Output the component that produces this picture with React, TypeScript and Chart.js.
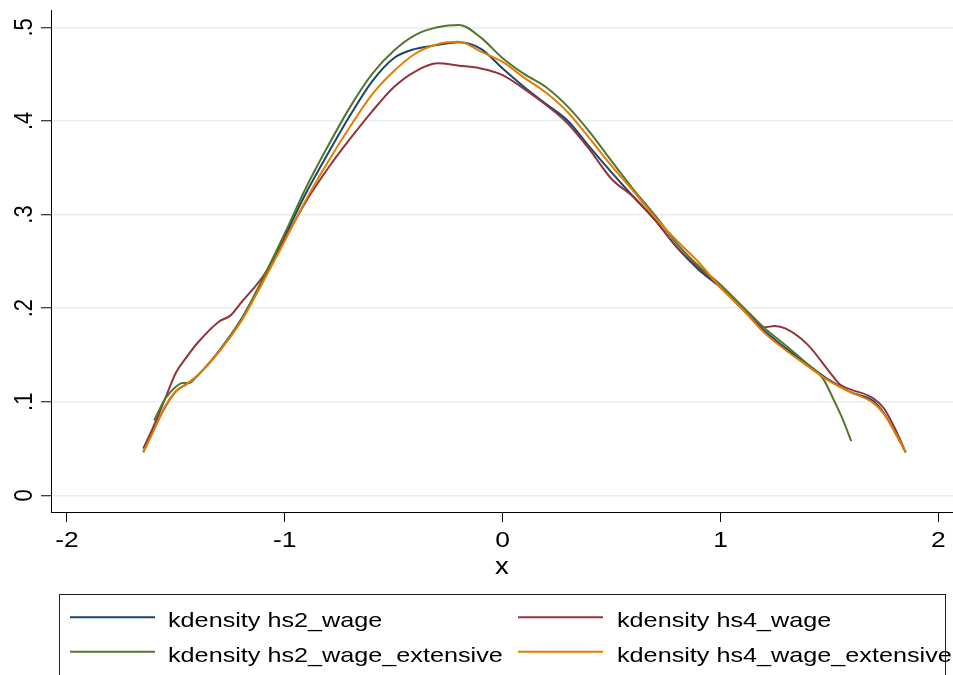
import React, { useEffect, useRef } from 'react';
import { Chart, registerables } from 'chart.js';

Chart.register(...registerables);

// ---- axis definitions ----
const xTicks = [-2, -1, 0, 1, 2];
const xTickLabels = ['-2', '-1', '0', '1', '2'];
const yTicks = [0, 0.1, 0.2, 0.3, 0.4, 0.5];
const yTickLabels = ['0', '.1', '.2', '.3', '.4', '.5'];
const xTitle = 'x';
const xMin = -2.0734;
const xMax = 2.0675;
const yMin = -0.0178;
const yMax = 0.5185;

// ---- series: kdensity hs2_wage ----
const hs2WageX = [-1.65, -1.6, -1.55, -1.5, -1.45, -1.4, -1.3, -1.2, -1.1, -1.0, -0.9, -0.8, -0.7, -0.6, -0.5, -0.4, -0.3, -0.2, -0.1, 0, 0.1, 0.2, 0.3, 0.4, 0.5, 0.6, 0.7, 0.8, 0.9, 1.0, 1.1, 1.2, 1.3, 1.4, 1.5, 1.6, 1.7, 1.75, 1.8, 1.85];
const hs2WageY = [0.046, 0.071, 0.094, 0.111, 0.119, 0.128, 0.155, 0.188, 0.230, 0.277, 0.324, 0.366, 0.406, 0.442, 0.467, 0.477, 0.481, 0.484, 0.477, 0.456, 0.436, 0.418, 0.400, 0.372, 0.345, 0.319, 0.294, 0.265, 0.241, 0.222, 0.199, 0.176, 0.157, 0.140, 0.123, 0.110, 0.101, 0.088, 0.068, 0.046];

// ---- series: kdensity hs4_wage ----
const hs4WageX = [-1.65, -1.6, -1.55, -1.5, -1.45, -1.4, -1.3, -1.25, -1.2, -1.1, -1.0, -0.9, -0.8, -0.7, -0.6, -0.5, -0.4, -0.3, -0.2, -0.1, 0, 0.1, 0.2, 0.3, 0.4, 0.5, 0.6, 0.7, 0.8, 0.9, 1.0, 1.1, 1.15, 1.2, 1.25, 1.3, 1.4, 1.5, 1.55, 1.6, 1.7, 1.75, 1.8, 1.85];
const hs4WageY = [0.050, 0.075, 0.103, 0.131, 0.148, 0.163, 0.186, 0.192, 0.206, 0.234, 0.274, 0.315, 0.350, 0.381, 0.410, 0.436, 0.453, 0.4615, 0.459, 0.456, 0.449, 0.434, 0.417, 0.397, 0.369, 0.338, 0.319, 0.294, 0.265, 0.243, 0.223, 0.201, 0.190, 0.1795, 0.181, 0.178, 0.161, 0.132, 0.118, 0.113, 0.104, 0.093, 0.072, 0.046];

// ---- series: kdensity hs2_wage_extensive ----
const hs2ExtX = [-1.6, -1.55, -1.5, -1.47, -1.44, -1.4, -1.3, -1.2, -1.1, -1.0, -0.9, -0.8, -0.7, -0.6, -0.5, -0.4, -0.3, -0.2, -0.1, 0, 0.1, 0.2, 0.3, 0.4, 0.5, 0.6, 0.7, 0.8, 0.9, 1.0, 1.1, 1.2, 1.3, 1.4, 1.47, 1.52, 1.56, 1.6];
const hs2ExtY = [0.080, 0.103, 0.116, 0.120, 0.120, 0.128, 0.154, 0.188, 0.232, 0.280, 0.330, 0.374, 0.415, 0.450, 0.475, 0.492, 0.500, 0.5025, 0.489, 0.467, 0.450, 0.436, 0.415, 0.388, 0.357, 0.327, 0.299, 0.269, 0.245, 0.225, 0.202, 0.179, 0.160, 0.140, 0.125, 0.102, 0.082, 0.058];

// ---- series: kdensity hs4_wage_extensive ----
const hs4ExtX = [-1.65, -1.6, -1.55, -1.5, -1.45, -1.4, -1.3, -1.2, -1.1, -1.0, -0.9, -0.8, -0.7, -0.6, -0.5, -0.4, -0.3, -0.2, -0.1, 0, 0.1, 0.2, 0.3, 0.4, 0.5, 0.6, 0.7, 0.8, 0.9, 1.0, 1.1, 1.2, 1.3, 1.4, 1.5, 1.6, 1.7, 1.75, 1.8, 1.85];
const hs4ExtY = [0.046, 0.070, 0.095, 0.111, 0.119, 0.128, 0.154, 0.186, 0.228, 0.272, 0.317, 0.357, 0.394, 0.428, 0.453, 0.472, 0.482, 0.4845, 0.474, 0.463, 0.446, 0.430, 0.409, 0.381, 0.352, 0.325, 0.297, 0.272, 0.249, 0.222, 0.199, 0.174, 0.155, 0.138, 0.122, 0.110, 0.099, 0.087, 0.068, 0.046];

const seriesLabels = ['kdensity hs2_wage', 'kdensity hs4_wage', 'kdensity hs2_wage_extensive', 'kdensity hs4_wage_extensive'];
const seriesColors = ['#1A476F', '#90353B', '#55752F', '#E37E00'];

const FONT = '"Liberation Sans", Arial, Helvetica, sans-serif';
const STRETCH = 1.2;

const toPoints = (xs: number[], ys: number[]) => xs.map((x, i) => ({ x, y: ys[i] }));

function drawStretched(ctx: CanvasRenderingContext2D, text: string, x: number, y: number, align: CanvasTextAlign, rotate = false) {
  ctx.save();
  ctx.translate(x, y);
  ctx.scale(STRETCH, 1);
  if (rotate) ctx.rotate(-Math.PI / 2);
  ctx.textAlign = align;
  ctx.textBaseline = 'alphabetic';
  ctx.fillText(text, 0, 0);
  ctx.restore();
}

const textPlugin = {
  id: 'stataText',
  afterDraw(chart: any) {
    const ctx: CanvasRenderingContext2D = chart.ctx;
    const area = chart.chartArea;
    const xs = chart.scales.x;
    const ys = chart.scales.y;
    ctx.save();
    ctx.fillStyle = '#000';
    ctx.font = `22px ${FONT}`;
    yTicks.forEach((v, i) => {
      drawStretched(ctx, yTickLabels[i], area.left - 19.5, ys.getPixelForValue(v), 'center', true);
    });
    xTicks.forEach((v, i) => {
      drawStretched(ctx, xTickLabels[i], xs.getPixelForValue(v), area.bottom + 35, 'center');
    });
    ctx.font = `23px ${FONT}`;
    drawStretched(ctx, xTitle, (area.left + area.right) / 2, area.bottom + 62, 'center');

    // legend box
    const top = area.bottom + 82;
    ctx.strokeStyle = '#222';
    ctx.lineWidth = 1;
    ctx.strokeRect(59.5, top + 0.5, 886, 200);
    ctx.font = `21px ${FONT}`;
    const colSample = [70, 518];
    const colText = [168, 617];
    const rowLine = [top + 23.3, top + 57.7];
    const rowText = [top + 32.5, top + 67.5];
    const datasets = chart.data.datasets;
    datasets.forEach((ds: any, i: number) => {
      const col = i % 2;
      const row = Math.floor(i / 2);
      ctx.strokeStyle = ds.borderColor;
      ctx.lineWidth = 2;
      ctx.beginPath();
      ctx.moveTo(colSample[col], rowLine[row]);
      ctx.lineTo(colSample[col] + 85, rowLine[row]);
      ctx.stroke();
      ctx.fillStyle = '#000';
      drawStretched(ctx, ds.label, colText[col], rowText[row], 'left');
    });
    ctx.restore();
  },
};

export default function App() {
  const canvasRef = useRef<HTMLCanvasElement | null>(null);

  useEffect(() => {
    if (!canvasRef.current) return;
    const mk = (i: number, xs: number[], ys: number[], order: number) => ({
      label: seriesLabels[i],
      data: toPoints(xs, ys),
      borderColor: seriesColors[i],
      backgroundColor: seriesColors[i],
      borderWidth: 2,
      pointRadius: 0,
      fill: false,
      cubicInterpolationMode: 'monotone' as const,
      order,
    });
    const chart = new Chart(canvasRef.current, {
      type: 'line',
      data: {
        datasets: [
          mk(0, hs2WageX, hs2WageY, 3),
          mk(1, hs4WageX, hs4WageY, 2),
          mk(2, hs2ExtX, hs2ExtY, 1),
          mk(3, hs4ExtX, hs4ExtY, 0),
        ],
      },
      options: {
        responsive: false,
        animation: false,
        parsing: false as any,
        layout: { padding: { top: 10, left: 0, right: 0, bottom: 0 } },
        plugins: { legend: { display: false }, tooltip: { enabled: false } },
        scales: {
          x: {
            type: 'linear',
            min: xMin,
            max: xMax,
            afterBuildTicks: (s: any) => { s.ticks = xTicks.map((v) => ({ value: v })); },
            afterFit: (s: any) => { s.height = 163; },
            ticks: { display: false },
            grid: { drawOnChartArea: false, drawTicks: true, tickLength: 10, tickColor: '#000', tickWidth: 1 },
            border: { display: true, color: '#000', width: 1 },
          },
          y: {
            type: 'linear',
            min: yMin,
            max: yMax,
            afterBuildTicks: (s: any) => { s.ticks = yTicks.map((v) => ({ value: v })); },
            afterFit: (s: any) => { s.width = 51; },
            ticks: { display: false },
            grid: { color: '#E4EDF0', lineWidth: 1.5, drawTicks: true, tickLength: 10, tickColor: '#000', tickWidth: 1 },
            border: { display: true, color: '#000', width: 1 },
          },
        },
      },
      plugins: [textPlugin],
    });
    return () => chart.destroy();
  }, []);

  return (
    <div style={{ position: 'absolute', left: 0, top: 0, width: 953, height: 675, background: '#fff' }}>
      <canvas ref={canvasRef} width={953} height={675} style={{ display: 'block' }} />
    </div>
  );
}
